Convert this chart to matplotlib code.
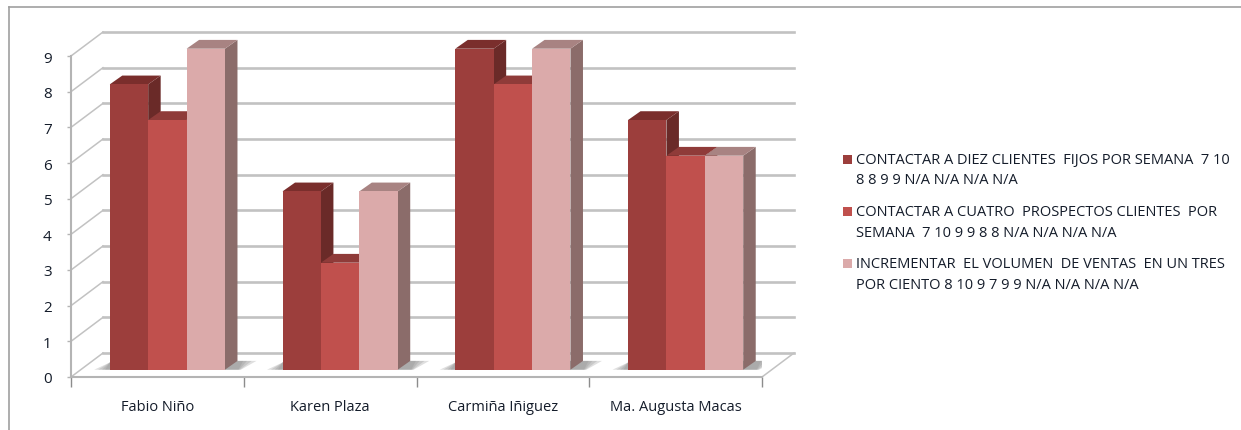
import matplotlib
matplotlib.use("Agg")
import matplotlib.pyplot as plt
from matplotlib.patches import Rectangle

CATEGORIES = ["Fabio Niño", "Karen Plaza", "Carmiña Iñiguez", "Ma. Augusta Macas"]
SERIES_1 = [8, 5, 9, 7]
SERIES_2 = [7, 3, 8, 6]
SERIES_3 = [9, 5, 9, 6]
Y_TICKS = [0, 1, 2, 3, 4, 5, 6, 7, 8, 9]
LEGEND_LABELS = [
    "CONTACTAR A DIEZ CLIENTES  FIJOS POR SEMANA  7 10\n8 8 9 9 N/A N/A N/A N/A",
    "CONTACTAR A CUATRO  PROSPECTOS CLIENTES  POR\nSEMANA  7 10 9 9 8 8 N/A N/A N/A N/A",
    "INCREMENTAR  EL VOLUMEN  DE VENTAS  EN UN TRES\nPOR CIENTO 8 10 9 7 9 9 N/A N/A N/A N/A",
]

W, H = 1241, 431
FONT = "Open Sans"
TEXT_COLOR = "#141c2a"
GRID = "#c2c2c2"
AXIS = "#b4b4b4"

# front / side / top colours of each series
COLORS = [
    ("#9c3e3c", "#6a2a28", "#7a2e2c"),
    ("#c0504d", "#8a3a38", "#8f3b39"),
    ("#dbaaaa", "#8b6c6a", "#a88382"),
]

# oblique offsets, category units on x and value units on y
WALL_DX = 32 / 172.75
WALL_DY = 24 / 35.67
BAR_DX = 12.5 / 172.75
BAR_DY = 8.8 / 35.67
GROUP_SHIFT = 10 / 172.75
BASE_DY = 7.3 / 35.67
BAR_W = 38.4 / 172.75


def px(x0, y0, x1, y1):
    return [x0 / W, 1 - y1 / H, (x1 - x0) / W, (y1 - y0) / H]


fig = plt.figure(figsize=(W / 100, H / 100), dpi=100)
ax = fig.add_axes(px(71, 57, 762, 378))
ax.set_xlim(-0.5, 3.5)
ax.set_ylim(0, 9)
ax.patch.set_alpha(0)
for side in ["top", "right"]:
    ax.spines[side].set_visible(False)
for side in ["left", "bottom"]:
    ax.spines[side].set_color(AXIS)
    ax.spines[side].set_linewidth(1.5)

ax.set_yticks(Y_TICKS)
ax.set_xticks([i + 0.5 for i in range(-1, 4)], minor=False)
ax.set_xticklabels([])
ax.tick_params(axis="y", length=3, width=1, color=AXIS, pad=11, labelsize=11,
               labelcolor=TEXT_COLOR)
ax.tick_params(axis="x", length=7, width=1, color="#8c8c8c")
for lab in ax.get_yticklabels():
    lab.set_fontfamily(FONT)

# back wall gridlines and their slants to the front plane
for v in Y_TICKS:
    ax.plot([-0.5 + WALL_DX, 3.5 + WALL_DX], [v + WALL_DY, v + WALL_DY],
            color=GRID, lw=1.9, clip_on=False, zorder=1)
    ax.plot([-0.5, -0.5 + WALL_DX], [v, v + WALL_DY],
            color=GRID, lw=1.1, clip_on=False, zorder=1)
ax.plot([3.5, 3.5 + WALL_DX], [0, WALL_DY], color=GRID, lw=1.1, clip_on=False, zorder=1)

for i, name in enumerate(CATEGORIES):
    ax.text(i, -0.82, name, ha="center", va="center", fontsize=10.5,
            family=FONT, color=TEXT_COLOR)

    # floor shadow around the foot of the group, stacked to fake a soft edge
    left = i + GROUP_SHIFT - 1.5 * BAR_W
    right = i + GROUP_SHIFT + 1.5 * BAR_W
    for grow in [1.0, 0.75, 0.5, 0.3]:
        ax.fill([left - 0.09 * grow, right + BAR_DX + 0.02 * grow,
                 right + BAR_DX + 0.11 * grow, left + 0.02 * grow],
                [BASE_DY, BASE_DY, BASE_DY + BAR_DY, BASE_DY + BAR_DY],
                color="#8e8e8e", alpha=0.28, lw=0, zorder=2)

# bars, drawn left to right so each one covers its neighbour's side
for i in range(len(CATEGORIES)):
    for j, values in enumerate([SERIES_1, SERIES_2, SERIES_3]):
        front, dark, top = COLORS[j]
        x0 = i + GROUP_SHIFT + (j - 1.5) * BAR_W
        x1 = x0 + BAR_W
        y0 = BASE_DY
        y1 = BASE_DY + values[i]
        z = 3 + i * 3 + j * 3
        ax.fill([x1, x1 + BAR_DX, x1 + BAR_DX, x1],
                [y0, y0 + BAR_DY, y1 + BAR_DY, y1],
                color=dark, lw=0, clip_on=False, zorder=z)
        ax.fill([x0, x1, x1 + BAR_DX, x0 + BAR_DX],
                [y1, y1, y1 + BAR_DY, y1 + BAR_DY],
                color=top, lw=0, clip_on=False, zorder=z + 1)
        ax.bar(x0, values[i], BAR_W, bottom=y0, align="edge", color=front,
               lw=0, clip_on=False, zorder=z + 2)

# legend
for k, label in enumerate(LEGEND_LABELS):
    y = 160.5 + k * 52.2
    fig.patches.append(Rectangle((843 / W, 1 - (y + 4.5) / H), 9 / W, 9 / H,
                                 transform=fig.transFigure, color=COLORS[k][0], lw=0))
    fig.text(856 / W, 1 - (y - 7.5) / H, label, ha="left", va="top", fontsize=10.55,
             family=FONT, color=TEXT_COLOR, linespacing=1.5)

# outer frame
fig.add_artist(plt.Line2D([9 / W, 9 / W], [0, 1 - 8 / H], color="#a0a0a0", lw=1.2))
fig.add_artist(plt.Line2D([9 / W, 1], [1 - 8 / H, 1 - 8 / H], color="#a0a0a0", lw=1.2))

fig.savefig("out.png", dpi=100)
